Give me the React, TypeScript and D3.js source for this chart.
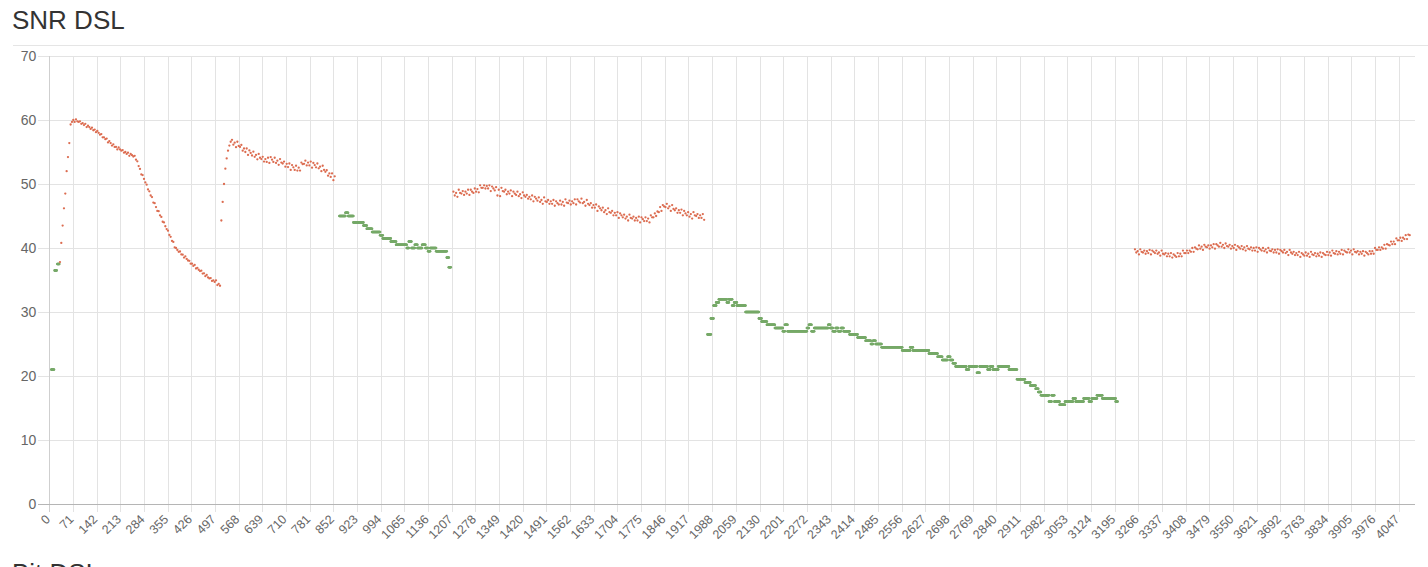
import { useEffect, useRef } from 'react';
import * as d3 from 'd3';

// tone axis: 4096 tones, labels every 71 tones
const toneCount = 4096;
const xTickLabels = [
  0, 71, 142, 213, 284, 355, 426, 497, 568, 639, 710, 781, 852, 923, 994, 1065,
  1136, 1207, 1278, 1349, 1420, 1491, 1562, 1633, 1704, 1775, 1846, 1917, 1988,
  2059, 2130, 2201, 2272, 2343, 2414, 2485, 2556, 2627, 2698, 2769, 2840, 2911,
  2982, 3053, 3124, 3195, 3266, 3337, 3408, 3479, 3550, 3621, 3692, 3763, 3834,
  3905, 3976, 4047,
];
const yTickLabels = [0, 10, 20, 30, 40, 50, 60, 70];

// downstream SNR (dB), one value every 4 tones
const dsStep = 4;
const dsSeg1Start = 32;
const dsSeg1 = [
  37.8, 40.8, 43.5, 46.2, 48.5, 52.0, 54.2, 56.4,
  59.3, 59.7, 60.0, 59.7, 60.1, 59.8, 59.7, 59.8, 59.4, 59.5, 59.2, 59.4, 58.9, 59.1, 58.9, 58.6,
  58.8, 58.4, 58.5, 58.1, 58.3, 58.0, 57.7, 57.8, 57.3, 57.3, 57.0, 57.1, 56.5, 56.7, 56.4, 56.0,
  56.2, 55.8, 55.8, 55.4, 55.7, 55.4, 55.2, 55.3, 54.9, 55.0, 54.7, 54.9, 54.4, 54.7, 54.5, 54.3,
  54.4, 53.8,
  53.55, 52.8, 52.35, 51.5, 51.4, 50.8, 50.25, 49.9, 49.15, 48.85, 48.2, 47.95, 47.1, 47.0, 46.4, 45.8,
  45.75, 45.1, 44.85, 44.1, 44.0, 43.4, 42.95, 42.7, 42.05, 41.75, 41.1, 40.95, 40.1, 40.0, 39.7, 39.4,
  39.45, 39.0, 38.95, 38.5, 38.7, 38.3, 38.05, 38.0, 37.55, 37.55, 37.2, 37.35, 36.8, 36.9, 36.6, 36.4,
  36.45, 36.0, 36.05, 35.6, 35.8, 35.4, 35.25, 35.3, 34.85, 34.95, 34.7, 34.95, 34.2, 34.4, 34.1,
];
const dsSeg2Start = 516;
const dsSeg2 = [
  44.3, 47.2, 50.0, 52.4, 54.0, 55.2, 56.0, 56.6,
  56.9, 56.15, 56.45, 55.75, 56.6, 55.95, 55.8, 56.1, 55.2, 55.55, 55.0, 55.55, 54.55, 55.25, 54.85, 54.45,
  55.05, 54.25, 54.55, 53.85, 54.7, 54.1, 53.9, 54.25, 53.5, 53.9, 53.45, 54.1, 53.3, 54.2, 53.8, 53.45,
  54.1, 53.3, 53.65, 53.0, 53.9, 53.35, 53.2, 53.5, 52.7, 53.15, 52.65, 53.2, 52.2, 52.95, 52.6, 52.2,
  52.85, 52.1, 52.55, 52.1, 53.35, 53.1, 53.15, 53.65, 52.9, 53.35, 52.9, 53.5, 52.55, 53.3, 52.95, 52.6,
  53.2, 52.45, 52.7, 52.0, 52.85, 52.2, 51.9, 52.15, 51.3, 51.65, 51.1, 51.65, 50.6, 51.2,
];
const dsSeg3Start = 1212;
const dsSeg3 = [
  48.8, 48.2, 48.6, 48.0, 49.1, 48.6, 48.5, 48.9, 48.3, 48.8, 48.5, 49.1, 48.3, 49.1, 48.8, 48.6,
  49.3, 48.8, 49.2, 48.7, 49.8, 49.4, 49.4, 49.8, 49.3, 49.7, 49.3, 49.8, 48.9, 49.6, 49.3, 49.0,
  49.5, 48.2, 49.1, 48.1, 49.4, 48.9, 48.8, 49.1, 48.4, 48.8, 48.5, 49.0, 48.1, 48.8, 48.5, 48.3,
  48.8, 48.1, 48.4, 47.8, 48.7, 48.2, 48.0, 48.3, 47.7, 48.0, 47.6, 48.2, 47.3, 48.0, 47.7, 47.4,
  47.9, 47.2, 47.5, 46.9, 47.9, 47.3, 47.2, 47.5, 46.9, 47.3, 46.9, 47.5, 46.6, 47.3, 47.0, 46.8,
  47.4, 46.8, 47.2, 46.6, 47.6, 47.1, 47.0, 47.4, 46.8, 47.3, 47.0, 47.6, 46.8, 47.6, 47.3, 47.1,
  47.7, 47.0, 47.2, 46.6, 47.5, 46.9, 46.7, 47.0, 46.3, 46.7, 46.3, 46.8, 45.8, 46.5, 46.2, 45.9,
  46.3, 45.6, 45.9, 45.3, 46.2, 45.6, 45.5, 45.8, 45.1, 45.5, 45.1, 45.6, 44.7, 45.4, 45.1, 44.8,
  45.2, 44.6, 44.9, 44.3, 45.2, 44.7, 44.6, 44.9, 44.3, 44.7, 44.3, 44.9, 44.0, 44.8, 44.5, 44.2,
  44.8, 44.2, 44.6, 44.0, 45.1, 44.8, 44.8, 45.4, 45.0, 45.7, 45.6, 46.4, 45.8, 46.7, 46.5, 46.4,
  46.9, 46.2, 46.5, 45.8, 46.7, 46.1, 45.9, 46.2, 45.5, 45.9, 45.5, 46.0, 45.1, 45.8, 45.4, 45.1,
  45.6, 44.9, 45.3, 44.6, 45.6, 45.1, 45.0, 45.3, 44.7, 45.1, 44.7, 45.3, 44.4,
];
const dsSeg4Start = 3256;
const dsSeg4 = [
  39.8, 39.3, 39.5, 39.0, 39.8, 39.4, 39.3, 39.6, 39.1, 39.5, 39.2, 39.7, 39.0, 39.6, 39.4, 39.2,
  39.6, 39.1, 39.3, 38.8, 39.6, 39.1, 39.0, 39.2, 38.7, 39.1, 38.7, 39.2, 38.5, 39.0, 38.8, 38.6,
  39.2, 38.7, 39.1, 38.7, 39.6, 39.2, 39.2, 39.6, 39.2, 39.6, 39.4, 40.0, 39.4, 40.1, 39.9, 39.8,
  40.4, 39.9, 40.2, 39.7, 40.5, 40.2, 40.1, 40.4, 39.9, 40.4, 40.1, 40.6, 39.9, 40.6, 40.4, 40.2,
  40.8, 40.2, 40.5, 40.0, 40.7, 40.3, 40.2, 40.5, 39.9, 40.3, 40.0, 40.5, 39.7, 40.3, 40.1, 39.9,
  40.3, 39.8, 40.1, 39.6, 40.3, 39.9, 39.8, 40.1, 39.6, 40.0, 39.6, 40.1, 39.4, 40.0, 39.8, 39.6,
  40.0, 39.5, 39.8, 39.3, 40.0, 39.6, 39.5, 39.8, 39.3, 39.7, 39.3, 39.8, 39.1, 39.7, 39.5, 39.3,
  39.7, 39.2, 39.4, 38.9, 39.7, 39.3, 39.1, 39.4, 38.9, 39.2, 38.9, 39.4, 38.6, 39.2, 39.0, 38.8,
  39.3, 38.8, 39.1, 38.6, 39.4, 39.0, 38.9, 39.2, 38.7, 39.1, 38.8, 39.3, 38.6, 39.2, 39.0, 38.9,
  39.4, 38.9, 39.3, 38.8, 39.6, 39.2, 39.1, 39.5, 39.0, 39.4, 39.1, 39.7, 39.0, 39.6, 39.4, 39.3,
  39.8, 39.3, 39.6, 39.0, 39.8, 39.4, 39.3, 39.5, 39.0, 39.4, 39.1, 39.5, 38.8, 39.4, 39.2, 39.0,
  39.5, 39.1, 39.5, 39.1, 40.0, 39.7, 39.7, 40.1, 39.7, 40.1, 39.9, 40.5, 39.9, 40.6, 40.5, 40.4,
  41.0, 40.6, 41.0, 40.6, 41.5, 41.2, 41.2, 41.6, 41.1, 41.6, 41.4, 42.0, 41.4, 42.1, 42.0,
];

// upstream SNR (dB), quantised to 0.5 dB: [fromTone, toTone, value]
const usRuns: [number, number, number][] = [
  [6, 14, 21], [16, 22, 36.5], [24, 30, 37.5],
  [870, 888, 45], [888, 896, 45.5], [896, 912, 45], [912, 942, 44], [942, 952, 43.5],
  [952, 968, 43], [968, 992, 42.5], [992, 1000, 42], [1000, 1024, 41.5], [1024, 1040, 41],
  [1040, 1072, 40.5], [1072, 1078, 40], [1078, 1086, 41], [1086, 1096, 40], [1096, 1104, 40.5],
  [1104, 1118, 40], [1118, 1128, 40.5], [1128, 1136, 40], [1136, 1142, 39.5], [1142, 1160, 40],
  [1160, 1192, 39.5], [1192, 1198, 38.5], [1198, 1204, 37],
  [1974, 1984, 26.5], [1984, 1992, 29], [1992, 2000, 31], [2000, 2008, 31.5], [2008, 2032, 32],
  [2032, 2038, 31.5], [2038, 2048, 32], [2048, 2054, 31], [2054, 2062, 31.5], [2062, 2088, 31],
  [2088, 2128, 30], [2128, 2136, 29], [2136, 2152, 28.5], [2152, 2176, 28], [2176, 2200, 27.5],
  [2200, 2206, 27], [2206, 2214, 28], [2214, 2272, 27], [2272, 2278, 27.5], [2278, 2286, 28],
  [2286, 2294, 27], [2294, 2336, 27.5], [2336, 2342, 28], [2342, 2350, 27.5], [2350, 2358, 27],
  [2358, 2366, 27.5], [2366, 2374, 27], [2374, 2382, 27.5], [2382, 2400, 27], [2400, 2424, 26.5],
  [2424, 2448, 26], [2448, 2464, 25.5], [2464, 2470, 25], [2470, 2478, 25.5], [2478, 2496, 25],
  [2496, 2558, 24.5], [2558, 2582, 24], [2582, 2590, 24.5], [2590, 2638, 24], [2638, 2664, 23.5],
  [2664, 2678, 23], [2678, 2694, 22.5], [2694, 2702, 23], [2702, 2710, 22.5], [2710, 2718, 22],
  [2718, 2750, 21.5], [2750, 2758, 21], [2758, 2782, 21.5], [2782, 2790, 20.5], [2790, 2814, 21.5],
  [2814, 2822, 21], [2822, 2830, 21.5], [2830, 2846, 21], [2846, 2878, 21.5], [2878, 2902, 21],
  [2902, 2926, 19.5], [2926, 2942, 19], [2942, 2958, 18.5], [2958, 2966, 18], [2966, 2974, 17.5],
  [2974, 2998, 17], [2998, 3006, 16], [3006, 3014, 17], [3014, 3030, 16], [3030, 3046, 15.5],
  [3046, 3070, 16], [3070, 3078, 16.5], [3078, 3102, 16], [3102, 3118, 16.5], [3118, 3126, 16],
  [3126, 3142, 16.5], [3142, 3158, 17], [3158, 3198, 16.5], [3198, 3204, 16],
];

const dsColor = '#dc6c50';
const usColor = '#76a968';

const W = 1428;
const H = 567;
const font = '"Liberation Sans", Arial, Helvetica, sans-serif';

const SnrChart = () => {
  const svgRef = useRef<SVGSVGElement>(null);

  useEffect(() => {
    if (!svgRef.current) return;
    const svg = d3.select(svgRef.current);
    svg.selectAll('*').remove();

    const left = 49.3;
    const right = 1414.7;
    const top = 56;
    const bottom = 504;

    const x = d3.scaleLinear().domain([0, toneCount - 1]).range([left, right]);
    const y = d3.scaleLinear().domain([0, 70]).range([bottom, top]);

    // titles
    svg.append('text')
      .attr('x', 12).attr('y', 29)
      .attr('font-family', font).attr('font-size', 26).attr('fill', '#333')
      .text('SNR DSL');
    svg.append('line')
      .attr('x1', 13).attr('x2', W).attr('y1', 45.5).attr('y2', 45.5)
      .attr('stroke', '#e5e5e5');
    svg.append('text')
      .attr('x', 12).attr('y', 582)
      .attr('font-family', font).attr('font-size', 26).attr('fill', '#333')
      .text('Bit DSL');

    // grid
    const grid = svg.append('g').attr('shape-rendering', 'crispEdges');
    grid.selectAll('line.h')
      .data(yTickLabels.filter(v => v > 0))
      .enter().append('line')
      .attr('x1', left - 11).attr('x2', right)
      .attr('y1', d => Math.round(y(d)) + 0.5).attr('y2', d => Math.round(y(d)) + 0.5)
      .attr('stroke', '#e3e3e3');
    grid.selectAll('line.v')
      .data(xTickLabels)
      .enter().append('line')
      .attr('x1', d => Math.round(x(d)) + 0.5).attr('x2', d => Math.round(x(d)) + 0.5)
      .attr('y1', top).attr('y2', bottom + 8)
      .attr('stroke', d => (d === 0 ? '#cfcfcf' : '#e3e3e3'));
    grid.append('line')
      .attr('x1', left - 11).attr('x2', right)
      .attr('y1', Math.round(y(0)) + 0.5).attr('y2', Math.round(y(0)) + 0.5)
      .attr('stroke', '#b5b5b5');

    // y labels
    svg.append('g').selectAll('text')
      .data(yTickLabels)
      .enter().append('text')
      .attr('x', left - 13).attr('y', d => y(d))
      .attr('dy', '0.36em')
      .attr('text-anchor', 'end')
      .attr('font-family', font).attr('font-size', 14).attr('fill', '#666')
      .text(d => d);

    // x labels
    svg.append('g').selectAll('text')
      .data(xTickLabels)
      .enter().append('text')
      .attr('transform', d => `translate(${x(d) + 1.5},${bottom + 16}) rotate(-45)`)
      .attr('text-anchor', 'end')
      .attr('font-family', font).attr('font-size', 12.5).attr('fill', '#666')
      .text(d => d);

    // downstream points
    const dsSegments = [
      { start: dsSeg1Start, values: dsSeg1 },
      { start: dsSeg2Start, values: dsSeg2 },
      { start: dsSeg3Start, values: dsSeg3 },
      { start: dsSeg4Start, values: dsSeg4 },
    ];
    const dsPoints = dsSegments.flatMap(s =>
      s.values.map((v, i) => ({ tone: s.start + i * dsStep, value: v })));

    // upstream points, one per tone inside each run
    const usPoints = usRuns.flatMap(([a, b, v]) =>
      d3.range(a, b + 1).map(t => ({ tone: t, value: v })));

    svg.append('g').selectAll('circle')
      .data(usPoints)
      .enter().append('circle')
      .attr('cx', d => x(d.tone)).attr('cy', d => y(d.value))
      .attr('r', 1.3)
      .attr('fill', usColor);

    svg.append('g').selectAll('circle')
      .data(dsPoints)
      .enter().append('circle')
      .attr('cx', d => x(d.tone)).attr('cy', d => y(d.value))
      .attr('r', 1.15)
      .attr('fill', dsColor);
  }, []);

  return <svg ref={svgRef} width={W} height={H} style={{ display: 'block' }} />;
};

export default function App() {
  return (
    <div style={{ position: 'absolute', left: 0, top: 0, width: W, height: H, overflow: 'hidden', background: '#fff' }}>
      <SnrChart />
    </div>
  );
}
